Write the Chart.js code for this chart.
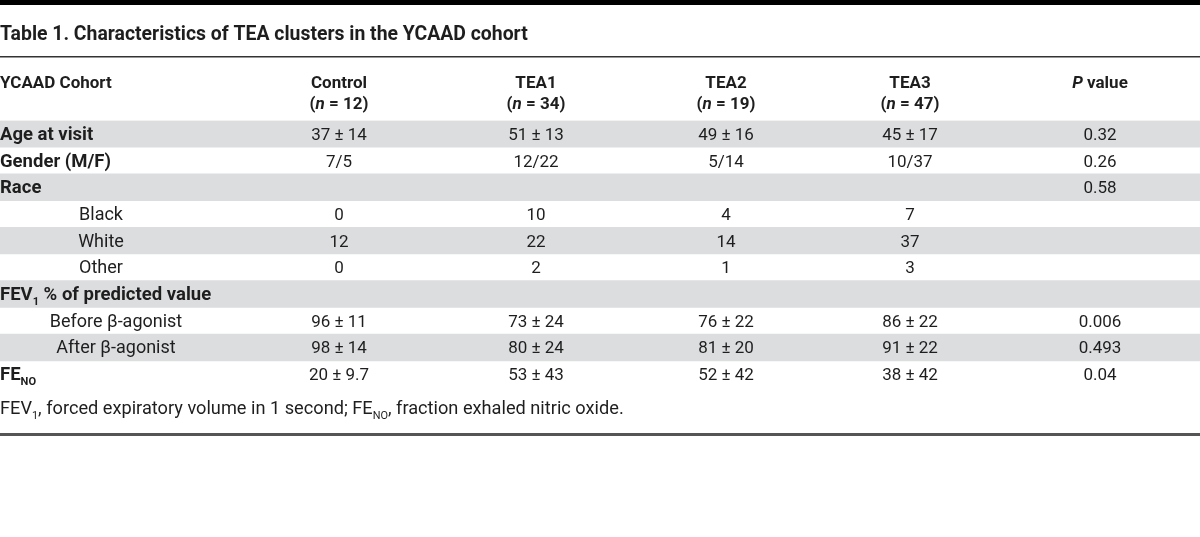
<!DOCTYPE html>
<html><head><meta charset="utf-8">
<script src="https://cdn.jsdelivr.net/npm/chart.js@4"></script>
<style>html,body{margin:0;padding:0;background:#fff}#wrap{width:1200px;height:537px;position:relative}canvas{display:block}</style>
</head><body><div id="wrap"><canvas id="c" width="1200" height="537"></canvas></div>
<script>
// ---- data ----
const tableTitle = "Table 1. Characteristics of TEA clusters in the YCAAD cohort";
const stubHeader = "YCAAD Cohort";
const groups = ["Control", "TEA1", "TEA2", "TEA3"];
const groupN = [12, 34, 19, 47];
const pHeader = "value";
const rowLabels = ["Age at visit", "Gender (M/F)", "Race", "Black", "White", "Other",
  "FEV1 % of predicted value", "Before β-agonist", "After β-agonist", "FENO"];
const controlVals = ["37 ± 14", "7/5", "", "0", "12", "0", "", "96 ± 11", "98 ± 14", "20 ± 9.7"];
const tea1Vals = ["51 ± 13", "12/22", "", "10", "22", "2", "", "73 ± 24", "80 ± 24", "53 ± 43"];
const tea2Vals = ["49 ± 16", "5/14", "", "4", "14", "1", "", "76 ± 22", "81 ± 20", "52 ± 42"];
const tea3Vals = ["45 ± 17", "10/37", "", "7", "37", "3", "", "86 ± 22", "91 ± 22", "38 ± 42"];
const pValues = ["0.32", "0.26", "0.58", "", "", "", "", "0.006", "0.493", "0.04"];
const footnote = "FEV1, forced expiratory volume in 1 second; FENO, fraction exhaled nitric oxide.";

// ---- layout / style (not data) ----
const FONT = "Roboto, 'DejaVu Sans', sans-serif";
const TXT = "#1e1e1e";
const STRIPE = "#dcdddf";
const colCenters = [339, 536, 726, 910, 1100];
const indentCenters = {3: 101, 4: 101, 5: 101, 7: 116, 8: 116};
const valueColumns = [controlVals, tea1Vals, tea2Vals, tea3Vals, pValues];
const SZ = {title: 19.4, head: 17, label: 18.5, indent: 18, value: 17, foot: 18.2};

function font(size, bold, italic) {
  return (italic ? "italic " : "") + (bold ? "bold " : "") + size + "px " + FONT;
}
function runsWidth(ctx, runs, size) {
  let w = 0;
  runs.forEach(r => { ctx.font = font(r.sub ? size * 0.6 : size, r.b, r.i); w += ctx.measureText(r.t).width; });
  return w;
}
function drawRuns(ctx, runs, x, y, size, align) {
  const w = runsWidth(ctx, runs, size);
  let cx = align === "center" ? x - w / 2 : x;
  ctx.textBaseline = "alphabetic";
  ctx.textAlign = "left";
  ctx.fillStyle = TXT;
  runs.forEach(r => {
    const s = r.sub ? size * 0.6 : size;
    ctx.font = font(s, r.b, r.i);
    ctx.fillText(r.t, cx, y + (r.sub ? size * 0.28 : 0));
    cx += ctx.measureText(r.t).width;
  });
}
function labelRuns(label, bold) {
  if (label.startsWith("FEV1")) return [{t: "FEV", b: bold}, {t: "1", b: bold, sub: true}, {t: label.slice(4), b: bold}];
  if (label.startsWith("FENO")) return [{t: "FE", b: bold}, {t: "NO", b: bold, sub: true}, {t: label.slice(4), b: bold}];
  return [{t: label, b: bold}];
}

const tablePlugin = {
  id: "tablePlugin",
  afterDatasetsDraw(chart) {
    const ctx = chart.ctx;
    const x = chart.scales.x, y = chart.scales.y;
    ctx.save();
    ctx.fillStyle = "#000";
    ctx.fillRect(0, 0, 1200, 5);
    ctx.fillStyle = "#333";
    ctx.fillRect(0, 56, 1200, 1.5);
    ctx.fillStyle = "#555";
    ctx.fillRect(0, 433, 1200, 3);
    drawRuns(ctx, [{t: tableTitle, b: true}], 0, 40, SZ.title, "left");
    drawRuns(ctx, [{t: stubHeader, b: true}], 0, 88, SZ.head, "left");
    groups.forEach((g, i) => {
      const cx = x.getPixelForValue(colCenters[i]);
      drawRuns(ctx, [{t: g, b: true}], cx, 88, SZ.head, "center");
      drawRuns(ctx, [{t: "(", b: true}, {t: "n", b: true, i: true}, {t: " = " + groupN[i] + ")", b: true}], cx, 109, SZ.head, "center");
    });
    drawRuns(ctx, [{t: "P", b: true, i: true}, {t: " " + pHeader, b: true}], x.getPixelForValue(colCenters[4]), 88, SZ.head, "center");
    rowLabels.forEach((lab, r) => {
      const py = y.getPixelForValue(r) + 6;
      if (indentCenters[r] !== undefined) {
        drawRuns(ctx, labelRuns(lab, false), x.getPixelForValue(indentCenters[r]), py, SZ.indent, "center");
      } else {
        drawRuns(ctx, labelRuns(lab, true), 0, py, SZ.label, "left");
      }
      valueColumns.forEach((col, c) => {
        if (col[r]) drawRuns(ctx, [{t: col[r]}], x.getPixelForValue(colCenters[c]), py, SZ.value, "center");
      });
    });
    const parts = footnote.split(/(FEV1|FENO)/).filter(s => s.length);
    const fr = [];
    parts.forEach(p => {
      if (p === "FEV1") { fr.push({t: "FEV"}); fr.push({t: "1", sub: true}); }
      else if (p === "FENO") { fr.push({t: "FE"}); fr.push({t: "NO", sub: true}); }
      else fr.push({t: p});
    });
    drawRuns(ctx, fr, 0, 414, SZ.foot, "left");
    ctx.restore();
  }
};

const stripeData = rowLabels.map((_, i) => (i % 2 === 0 ? [0, 1200] : null));

new Chart(document.getElementById("c"), {
  type: "bar",
  data: {
    labels: rowLabels,
    datasets: [{
      data: stripeData,
      backgroundColor: STRIPE,
      borderWidth: 0,
      barPercentage: 1,
      categoryPercentage: 1
    }]
  },
  options: {
    indexAxis: "y",
    responsive: false,
    animation: false,
    events: [],
    layout: {padding: {top: 120.5, bottom: 149.5, left: 0, right: 0}},
    plugins: {legend: {display: false}, tooltip: {enabled: false}, title: {display: false}},
    scales: {
      x: {type: "linear", min: 0, max: 1200, display: false},
      y: {type: "category", display: false, offset: true}
    }
  },
  plugins: [tablePlugin]
});
</script>
</body></html>
